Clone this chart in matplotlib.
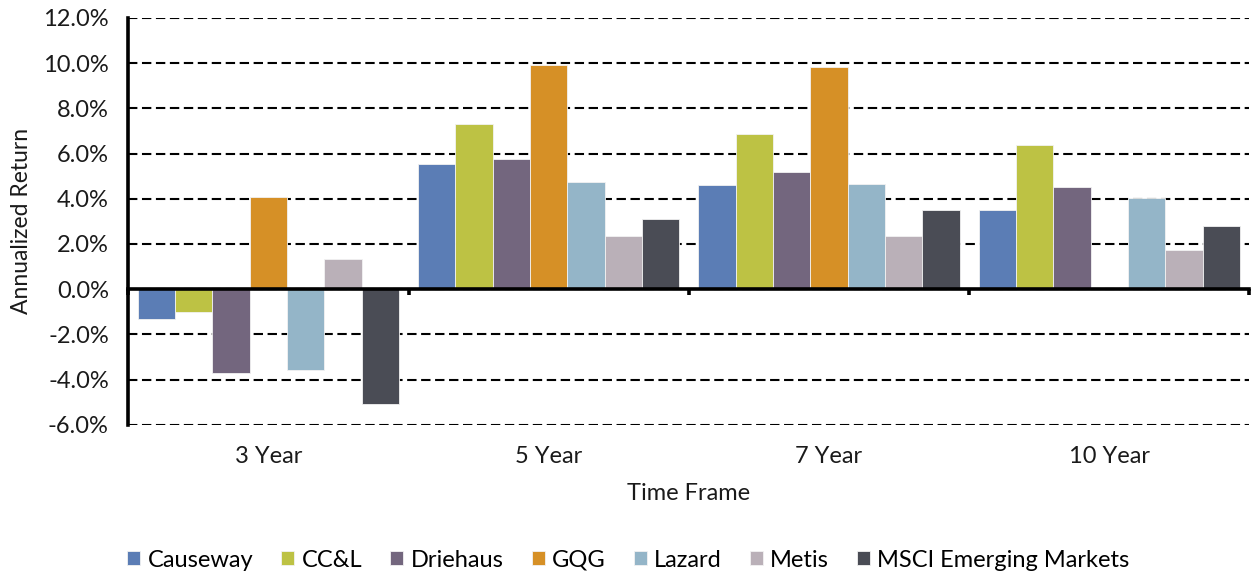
import numpy as np
import matplotlib.pyplot as plt
from matplotlib.ticker import FuncFormatter, FixedLocator

plt.rcParams['font.family'] = ['Lato', 'DejaVu Sans']

frames = ["3 Year", "5 Year", "7 Year", "10 Year"]
managers = ["Causeway", "CC&L", "Driehaus", "GQG", "Lazard", "Metis", "MSCI Emerging Markets"]
colors = ["#5B7DB5", "#BDC244", "#73667E", "#D69026", "#94B5C8", "#BAB0B8", "#4A4C55"]

causeway = [-1.30, 5.53, 4.61, 3.49]
ccl = [-1.00, 7.32, 6.86, 6.36]
driehaus = [-3.69, 5.75, 5.20, 4.52]
gqg = [4.07, 9.92, 9.83, np.nan]
lazard = [-3.59, 4.74, 4.67, 4.02]
metis = [1.32, 2.34, 2.35, 1.73]
msci = [-5.10, 3.09, 3.52, 2.78]

series = [causeway, ccl, driehaus, gqg, lazard, metis, msci]

fig = plt.figure(figsize=(12.57, 5.78), dpi=100)
ax = fig.add_axes([0.102, 0.265, 0.892, 0.704])

x = np.arange(len(frames))
n = len(series)
w = 0.1333
for i, (vals, name, c) in enumerate(zip(series, managers, colors)):
    ax.bar(x + (i - (n - 1) / 2) * w, vals, w, color=c, label=name,
           edgecolor='#f2f2f2', linewidth=0.6, zorder=3)

ax.set_xlim(-0.5, len(frames) - 0.5)
ax.set_ylim(-6, 12)
ax.set_yticks(np.arange(-6, 12.1, 2))
ax.yaxis.set_major_formatter(FuncFormatter(lambda v, p: f"{v:.1f}%"))
ax.grid(axis='y', color='black', linestyle=(0, (4.5, 2.2)), linewidth=1.5, zorder=1)
ax.tick_params(axis='y', length=0, pad=14, labelsize=17, colors='#1a1a1a')

for s in ['top', 'right']:
    ax.spines[s].set_visible(False)
ax.spines['left'].set_linewidth(2.6)
ax.spines['bottom'].set_position(('data', 0))
ax.spines['bottom'].set_linewidth(2.6)
ax.spines['bottom'].set_zorder(4)

ax.xaxis.set_major_locator(FixedLocator(np.arange(-0.5, len(frames), 1.0)))
ax.tick_params(axis='x', which='major', length=4, width=2.6, direction='out', labelbottom=False)

sec = ax.secondary_xaxis('bottom')
sec.set_xticks(x)
sec.set_xticklabels(frames)
sec.tick_params(length=0, pad=15, labelsize=17, colors='#1a1a1a')
sec.spines['bottom'].set_visible(False)
sec.set_xlabel("Time Frame", fontsize=17, labelpad=12, color='#1a1a1a')

ax.set_ylabel("Annualized Return", fontsize=16.5, labelpad=8, color='#1a1a1a')

fig.legend(loc='center', bbox_to_anchor=(0.5, 0.031), ncol=7, frameon=False,
           fontsize=17, handlelength=0.55, handleheight=0.55, handletextpad=0.3,
           columnspacing=1.2, borderaxespad=0)

fig.savefig("out.png", dpi=100)
